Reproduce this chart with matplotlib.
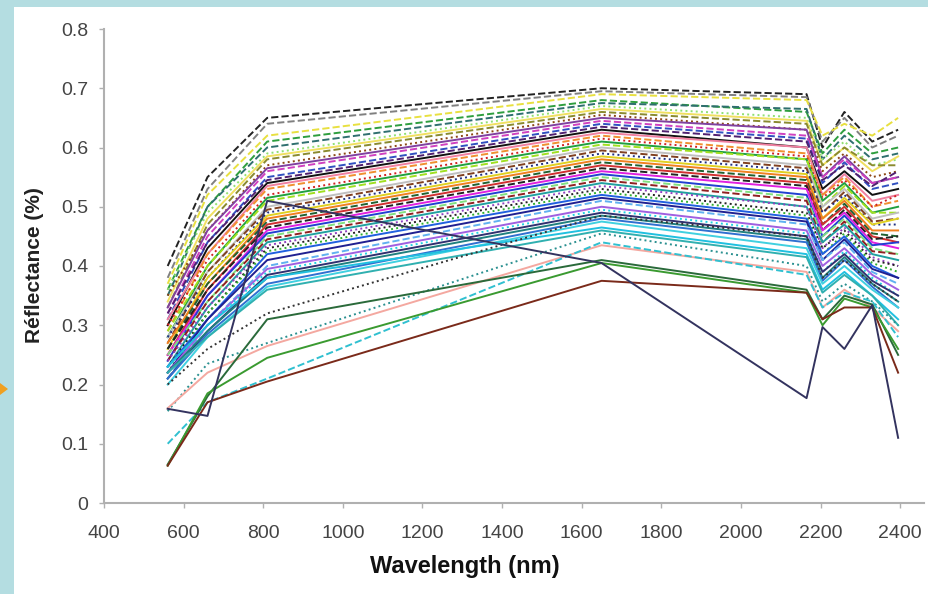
import matplotlib
matplotlib.use('Agg')
import matplotlib.pyplot as plt
from matplotlib.patches import Rectangle, Polygon

# ASTER band centres (nm)
wavelengths = [560, 660, 810, 1650, 2165, 2205, 2260, 2330, 2395]

# reflectance spectra, one list per sample
spectra = [
    [0.40, 0.55, 0.65, 0.700, 0.690, 0.60, 0.660, 0.610, 0.63],
    [0.38, 0.53, 0.64, 0.695, 0.685, 0.61, 0.650, 0.600, 0.62],
    [0.37, 0.52, 0.62, 0.690, 0.680, 0.62, 0.640, 0.620, 0.65],
    [0.36, 0.50, 0.61, 0.680, 0.660, 0.59, 0.630, 0.590, 0.60],
    [0.35, 0.50, 0.60, 0.675, 0.665, 0.58, 0.620, 0.580, 0.59],
    [0.36, 0.49, 0.59, 0.670, 0.650, 0.58, 0.610, 0.570, 0.58],
    [0.34, 0.48, 0.585, 0.665, 0.645, 0.57, 0.600, 0.560, 0.585],
    [0.33, 0.47, 0.58, 0.660, 0.640, 0.57, 0.600, 0.570, 0.57],
    [0.35, 0.46, 0.57, 0.655, 0.630, 0.56, 0.590, 0.550, 0.56],
    [0.33, 0.46, 0.565, 0.650, 0.630, 0.55, 0.585, 0.540, 0.55],
    [0.32, 0.45, 0.56, 0.645, 0.620, 0.55, 0.580, 0.540, 0.55],
    [0.31, 0.44, 0.55, 0.640, 0.615, 0.54, 0.575, 0.530, 0.54],
    [0.32, 0.44, 0.545, 0.635, 0.610, 0.545, 0.570, 0.535, 0.56],
    [0.30, 0.43, 0.54, 0.630, 0.600, 0.53, 0.560, 0.520, 0.53],
    [0.31, 0.42, 0.535, 0.625, 0.600, 0.52, 0.555, 0.510, 0.52],
    [0.29, 0.42, 0.53, 0.620, 0.590, 0.52, 0.550, 0.500, 0.51],
    [0.30, 0.41, 0.52, 0.615, 0.585, 0.515, 0.545, 0.500, 0.52],
    [0.28, 0.40, 0.515, 0.610, 0.580, 0.51, 0.540, 0.490, 0.50],
    [0.29, 0.40, 0.51, 0.605, 0.580, 0.50, 0.535, 0.490, 0.49],
    [0.28, 0.39, 0.50, 0.600, 0.570, 0.50, 0.530, 0.480, 0.49],
    [0.27, 0.39, 0.495, 0.595, 0.565, 0.49, 0.525, 0.475, 0.48],
    [0.28, 0.38, 0.49, 0.590, 0.560, 0.49, 0.520, 0.470, 0.47],
    [0.26, 0.38, 0.485, 0.585, 0.555, 0.48, 0.515, 0.470, 0.48],
    [0.27, 0.37, 0.48, 0.580, 0.550, 0.48, 0.510, 0.460, 0.46],
    [0.26, 0.37, 0.475, 0.575, 0.545, 0.47, 0.505, 0.455, 0.45],
    [0.25, 0.36, 0.47, 0.570, 0.540, 0.47, 0.500, 0.450, 0.44],
    [0.26, 0.36, 0.465, 0.565, 0.535, 0.46, 0.495, 0.445, 0.45],
    [0.25, 0.35, 0.46, 0.560, 0.530, 0.46, 0.490, 0.440, 0.43],
    [0.24, 0.35, 0.455, 0.555, 0.520, 0.45, 0.485, 0.435, 0.44],
    [0.25, 0.34, 0.45, 0.550, 0.515, 0.45, 0.480, 0.430, 0.42],
    [0.24, 0.34, 0.445, 0.545, 0.510, 0.44, 0.475, 0.425, 0.42],
    [0.23, 0.33, 0.44, 0.540, 0.500, 0.44, 0.470, 0.420, 0.41],
    [0.24, 0.33, 0.435, 0.535, 0.500, 0.43, 0.465, 0.415, 0.40],
    [0.23, 0.32, 0.43, 0.530, 0.490, 0.43, 0.460, 0.410, 0.40],
    [0.22, 0.32, 0.425, 0.525, 0.485, 0.42, 0.455, 0.405, 0.39],
    [0.23, 0.31, 0.42, 0.520, 0.480, 0.42, 0.450, 0.400, 0.38],
    [0.22, 0.31, 0.41, 0.515, 0.475, 0.41, 0.445, 0.395, 0.38],
    [0.21, 0.30, 0.40, 0.510, 0.470, 0.41, 0.440, 0.390, 0.37],
    [0.22, 0.30, 0.395, 0.500, 0.460, 0.40, 0.430, 0.385, 0.36],
    [0.23, 0.30, 0.39, 0.495, 0.455, 0.39, 0.425, 0.380, 0.35],
    [0.21, 0.29, 0.385, 0.490, 0.450, 0.39, 0.420, 0.375, 0.35],
    [0.22, 0.29, 0.38, 0.485, 0.445, 0.38, 0.415, 0.370, 0.34],
    [0.21, 0.285, 0.37, 0.480, 0.440, 0.375, 0.410, 0.365, 0.33],
    [0.20, 0.28, 0.365, 0.475, 0.430, 0.37, 0.400, 0.360, 0.33],
    [0.23, 0.30, 0.38, 0.465, 0.420, 0.36, 0.390, 0.350, 0.31],
    [0.22, 0.28, 0.36, 0.460, 0.415, 0.355, 0.385, 0.350, 0.30],
    [0.20, 0.26, 0.32, 0.485, 0.450, 0.38, 0.410, 0.370, 0.34],
    [0.155, 0.235, 0.27, 0.455, 0.400, 0.34, 0.370, 0.340, 0.30],
    [0.16, 0.22, 0.265, 0.435, 0.390, 0.33, 0.360, 0.330, 0.29],
    [0.10, 0.17, 0.21, 0.440, 0.385, 0.33, 0.355, 0.340, 0.28],
    [0.065, 0.18, 0.31, 0.410, 0.360, 0.31, 0.350, 0.335, 0.25],
    [0.063, 0.185, 0.245, 0.405, 0.355, 0.30, 0.345, 0.330, 0.26],
    [0.063, 0.17, 0.205, 0.375, 0.355, 0.31, 0.330, 0.330, 0.22],
    [0.159, 0.147, 0.51, 0.405, 0.177, 0.297, 0.260, 0.334, 0.11],
]

palette = ['#222222', '#808080', '#e8e040', '#2e9e3e', '#2f6f6f', '#90e070',
           '#f0e060', '#8a8a30', '#8b4513', '#8040a0', '#d040c0', '#3050c0',
           '#502070', '#111111', '#f080a0', '#f09030', '#d02020', '#20a040',
           '#a0e020', '#c0c0c0', '#804020', '#203080', '#e0d020', '#f08020',
           '#206030', '#d03030', '#222222', '#e020e0', '#2040d0', '#80e080',
           '#902020', '#20a0a0', '#9040c0', '#222222', '#30b030', '#2060e0',
           '#202090', '#60b0f0', '#a060e0', '#20d0e0', '#303070', '#208080',
           '#3070d0', '#40d0e0', '#20c0e0', '#30b0b0']
styles = ['--', '--', '--', '--', '--', ':', '-', '--', ':', '-', '--', '--',
          '--', '-', '-', '--', ':', '-', '--', '-', '--', ':', '-', '-',
          '--', '-', '--', '-', '-', '--', '--', '-', ':', ':', ':', '-',
          '-', '--', '-', ':', '-', '-', '-', '-', '-', '-']
low_colors = ['#333333', '#2a9090', '#f4a8a0', '#30c0d0', '#2a6a3a', '#3a9a30', '#7a2a1a', '#33335f']
low_styles = [':', ':', '-', '--', '-', '-', '-', '-']

fig = plt.figure(figsize=(9.29, 5.94), dpi=100)
fig.patch.set_facecolor('#b4dde1')
fig.patches.append(Rectangle((14 / 929, 0), 1, 1 - 7 / 594, transform=fig.transFigure,
                             facecolor='white', edgecolor='none', zorder=-2))
fig.patches.append(Polygon([(0, 1 - 383 / 594), (8 / 929, 1 - 389 / 594), (0, 1 - 395 / 594)],
                           closed=True, transform=fig.transFigure,
                           facecolor='#f0a020', edgecolor='none', zorder=-1))

ax = fig.add_axes([104 / 929, 1 - 503 / 594, 820 / 929, 474 / 594])
ax.set_facecolor('none')
ax.set_zorder(5)

n_top = len(palette)
for i, s in enumerate(spectra):
    if i < n_top:
        c, ls = palette[i], styles[i]
    else:
        c, ls = low_colors[i - n_top], low_styles[i - n_top]
    ax.plot(wavelengths, s, color=c, linestyle=ls, linewidth=1.4)

ax.set_xlim(400, 2460)
ax.set_ylim(0, 0.8)
ax.set_xticks(range(400, 2401, 200))
ax.set_yticks([0, 0.1, 0.2, 0.3, 0.4, 0.5, 0.6, 0.7, 0.8])
ax.set_yticklabels(['0', '0.1', '0.2', '0.3', '0.4', '0.5', '0.6', '0.7', '0.8'])
for sp in ['top', 'right']:
    ax.spines[sp].set_visible(False)
for sp in ['left', 'bottom']:
    ax.spines[sp].set_color('#b0b0b0')
    ax.spines[sp].set_linewidth(1.5)
ax.tick_params(direction='out', length=3.5, width=1, color='#b0b0b0',
               labelsize=14, labelcolor='#444444')
ax.tick_params(axis='x', pad=12)
ax.tick_params(axis='y', pad=8)
for lab in ax.get_xticklabels() + ax.get_yticklabels():
    lab.set_fontfamily('Liberation Sans')

fig.text(465 / 929, 1 - 566 / 594, 'Wavelength (nm)', ha='center', va='center',
         fontsize=17, fontweight='bold', family='Liberation Sans', color='#111111')
fig.text(35 / 929, 1 - 265 / 594, 'Réflectance (%)', ha='center', va='center',
         rotation=90, fontsize=15, fontweight='bold', family='Liberation Sans', color='#222222')

fig.savefig('out.png', dpi=100)
